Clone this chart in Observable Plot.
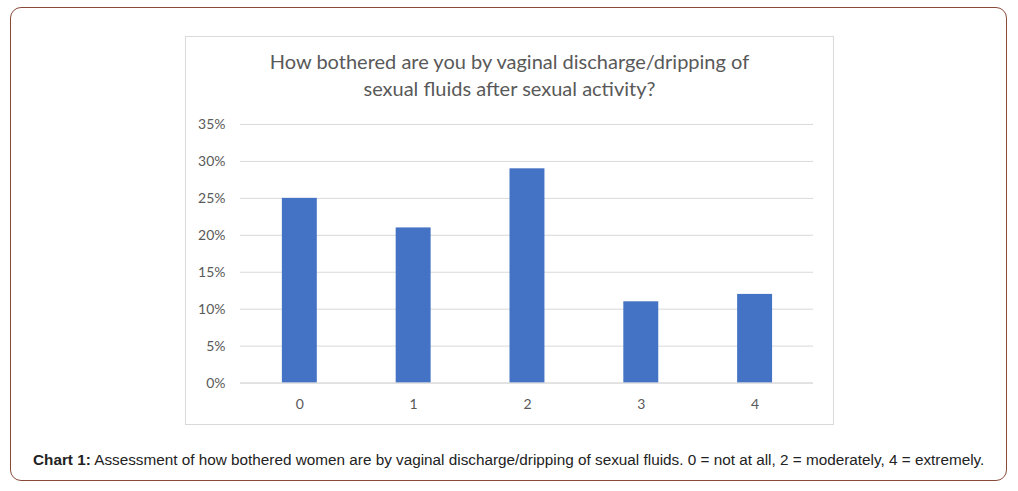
<!DOCTYPE html>
<html>
<head>
<meta charset="utf-8">
<script src="https://cdn.jsdelivr.net/npm/d3@7"></script>
<script src="https://cdn.jsdelivr.net/npm/@observablehq/plot@0.6"></script>
<style>
  html, body { margin: 0; padding: 0; background: #fff; }
  body { width: 1018px; height: 491px; position: relative; overflow: hidden; }
  #frame { position: absolute; left: 10px; top: 7px; width: 997px; height: 474px;
           border: 1px solid #8a4a3a; border-radius: 11px; box-sizing: border-box; }
  #box { position: absolute; left: 185px; top: 36px; width: 649px; height: 389px;
         border: 1px solid #d9d9d9; box-sizing: border-box; background: #fff; }
  #title { position: absolute; left: 0; top: 11px; width: 100%; text-align: center;
           font-family: Lato, "Open Sans", sans-serif; font-size: 20px; line-height: 27px; color: #595959; }
  #plot { position: absolute; left: -1px; top: 73px; }
  #caption { position: absolute; left: 33px; top: 451px; font-family: "Liberation Sans", Arial, sans-serif;
             font-size: 15.3px; color: #222; white-space: nowrap; }
</style>
</head>
<body>
<div id="frame"></div>
<div id="box">
  <div id="title">How bothered are you by vaginal discharge/dripping of<br>sexual fluids after sexual activity?</div>
  <div id="plot"></div>
</div>
<div id="caption"><b>Chart 1:</b> Assessment of how bothered women are by vaginal discharge/dripping of sexual fluids. 0 = not at all, 2 = moderately, 4 = extremely.</div>
<script>
const categories = ["0", "1", "2", "3", "4"];
const values = [0.25, 0.21, 0.29, 0.11, 0.12];
const yTicks = [0, 0.05, 0.10, 0.15, 0.20, 0.25, 0.30, 0.35];

const data = categories.map((c, i) => ({category: c, value: values[i]}));

const chart = Plot.plot({
  width: 649,
  height: 315,
  marginLeft: 55,
  marginRight: 20,
  marginTop: 14,
  marginBottom: 42,
  style: {fontFamily: "Lato, 'Open Sans', sans-serif", fontSize: "14px", color: "#595959", background: "transparent"},
  x: {domain: categories, paddingInner: 0.695, paddingOuter: 0.3475, label: null, tickSize: 0, tickPadding: 16},
  y: {domain: [0, 0.35], ticks: yTicks, tickFormat: d3.format(".0%"), label: null, tickSize: 0, tickPadding: 15},
  marks: [
    Plot.gridY(yTicks, {stroke: "#d9d9d9", strokeOpacity: 1, strokeWidth: 1}),
    Plot.barY(data, {x: "category", y: "value", fill: "#4472c4"}),
    Plot.ruleY([0], {stroke: "#d9d9d9", strokeWidth: 1})
  ]
});
document.getElementById("plot").appendChild(chart);
</script>
</body>
</html>
